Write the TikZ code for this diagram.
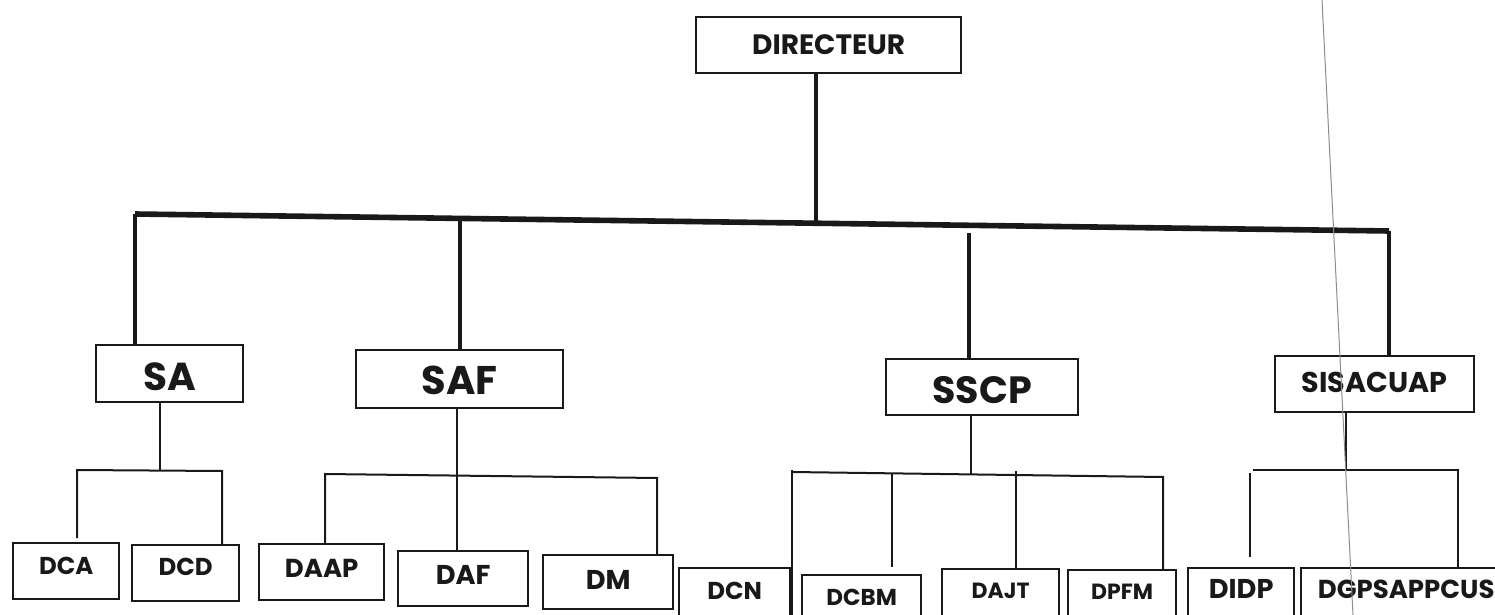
\documentclass[tikz,border=0pt]{standalone}
\usepackage{fontspec}
\setmainfont{Poppins}
\usetikzlibrary{calc}
\newcommand{\obox}[8]{%
  \pgfmathsetmacro\obW{(#4-#2)*0.5}%
  \pgfmathsetmacro\obH{(#6-#3)*0.5}%
  \pgfmathsetmacro\obD{(#5-#6)*0.5}%
  \node[orgbox, anchor=north west, minimum width=\obW pt, text height=\obH pt, text depth=\obD pt,
        font=\fontsize{#7}{#7}\selectfont\bfseries] (#1) at (#2,#3) {#8};}
\begin{document}
\begin{tikzpicture}[x=0.5pt,y=-0.5pt,
  orgbox/.style={draw=black!90, line width=1.2pt, inner sep=0pt, text=black!90},
  bigline/.style={draw=black!90, line width=2.4pt, line join=miter},
  busline/.style={draw=black!90, line width=2.8pt, line join=miter},
  smallline/.style={draw=black!90, line width=1pt, line join=miter},
  artefact/.style={draw=black!45, line width=0.5pt}]
\useasboundingbox (0,0) rectangle (1495,615);
\clip (0,0) rectangle (1495,615);
\fill[white] (0,0) rectangle (1495,615);
% boxes: name, left, top, right, bottom, baseline, font size (pt), text
\obox{dir}{695}{16}{960}{72}{53}{14}{DIRECTEUR}
\obox{sa}{95}{344}{242}{401}{389}{19.5}{SA}
\obox{saf}{355}{349}{562}{407}{393}{20}{SAF}
\obox{sscp}{885}{358}{1077}{414}{402}{19}{SSCP}
\obox{sis}{1274}{355}{1473}{411}{391}{14.3}{SISACUAP}
\obox{dca}{12}{542}{118}{598}{573}{12.2}{DCA}
\obox{dcd}{131}{544}{238}{600}{574}{12.2}{DCD}
\obox{daap}{258}{543}{383}{599}{576}{13}{DAAP}
\obox{daf}{397}{550}{527}{605}{583}{13.6}{DAF}
\obox{dm}{542}{554}{672}{608}{588}{13.6}{DM}
\obox{dcn}{678}{567}{789}{625}{598}{12.2}{DCN}
\obox{dcbm}{801}{574}{920}{625}{604}{11.5}{DCBM}
\obox{dajt}{941}{568}{1058}{625}{597}{11}{DAJT\hspace{9pt}}
\obox{dpfm}{1067}{569}{1175}{625}{598}{11}{DPFM}
\obox{didp}{1187}{567}{1293}{625}{597}{13.6}{DIDP}
\obox{dgp}{1300}{567}{1510}{625}{597}{13}{DGPSAPPCUS}
% main bus junctions
\coordinate (j0) at (816,223);
\coordinate (j1) at (135,214);
\coordinate (j2) at (460,218.4);
\coordinate (j3) at (969,233);
\coordinate (j4) at (1389,231);
\draw[bigline] (j0 |- dir.south) -- (j0);
\draw[bigline] (j1 |- sa.north) -- (j1);
\draw[busline] (j1) -- (j4);
\draw[bigline] (j4) -- (j4 |- sis.north);
\draw[bigline] (j2) -- (j2 |- saf.north);
\draw[bigline] (j3) -- (j3 |- sscp.north);
% SA children
\coordinate (saM) at (160,470);
\coordinate (saL) at (77,470);
\coordinate (saR) at (222,471);
\coordinate (dcaEnd) at (77,538);
\draw[smallline] (saM |- sa.south) -- (saM);
\draw[smallline] (dcaEnd) -- (saL) -- (saR) -- (saR |- dcd.north);
% SAF children
\coordinate (safM) at (457,476);
\coordinate (safL) at (325,474);
\coordinate (safR) at (657,478);
\draw[smallline] (safM |- saf.south) -- (safM |- daf.north);
\draw[smallline] (safL |- daap.north) -- (safL) -- (safR) -- (safR |- dm.north);
% SSCP children
\coordinate (scM) at (971,474);
\coordinate (scL) at (792,470);
\coordinate (scLb) at (792,472);
\coordinate (scR) at (1163,477);
\coordinate (scB) at (892,473.5);
\coordinate (scBend) at (892,567);
\coordinate (scJ) at (1016,471);
\draw[smallline] (scM |- sscp.south) -- (scM);
\draw[smallline] (scL |- dcn.south) -- (scL);
\draw[smallline] (scLb) -- (scR) -- (scR |- dpfm.north);
\draw[smallline] (scB) -- (scBend);
\draw[smallline] (scJ) -- (scJ |- dajt.north);
% SISACUAP children
\coordinate (siM) at (1346,470);
\coordinate (siL) at (1253,470);
\coordinate (siR) at (1458,470);
\coordinate (siD) at (1250,473);
\coordinate (siDend) at (1250,557);
\draw[smallline] (siM |- sis.south) -- (siM);
\draw[smallline] (siL) -- (siR) -- (siR |- dgp.north);
\draw[smallline] (siD) -- (siDend);
% scan artefact line
\coordinate (artA) at (1322,0);
\coordinate (artB) at (1353,615);
\draw[artefact] (artA) -- (artB);
\end{tikzpicture}
\end{document}
